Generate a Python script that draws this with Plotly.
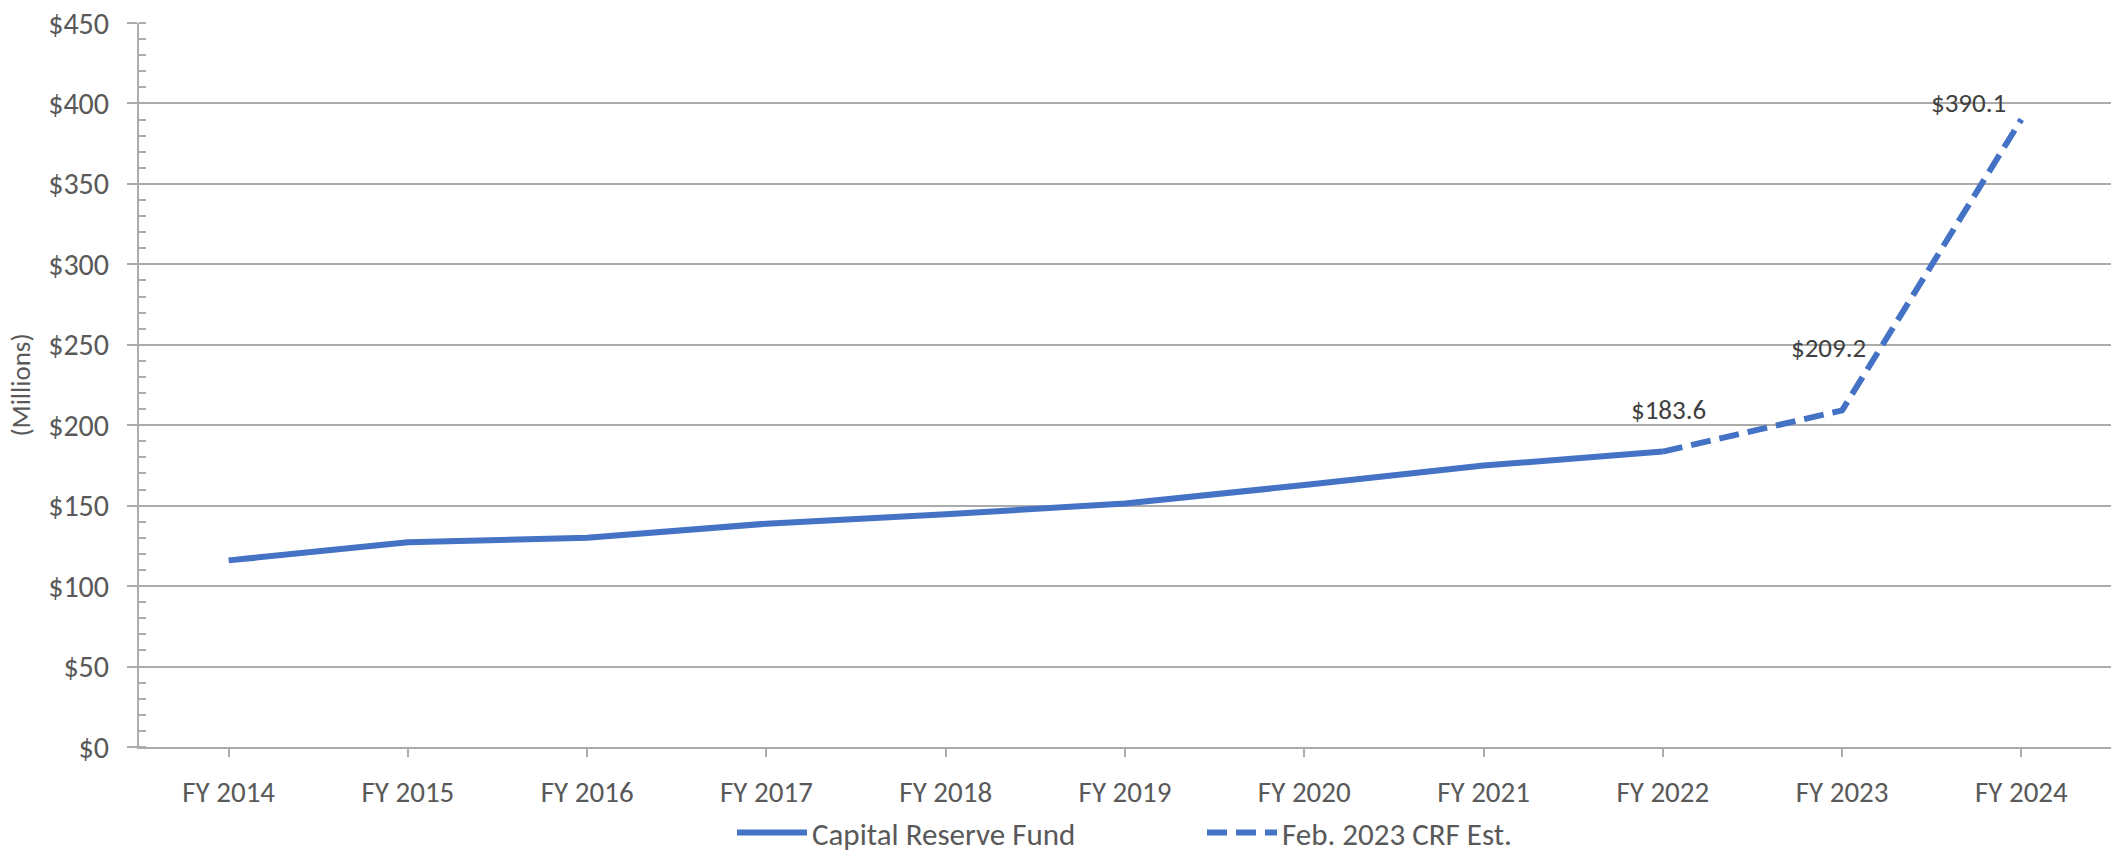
import plotly.graph_objects as go

# Fiscal years on the category axis
years = ["FY 2014", "FY 2015", "FY 2016", "FY 2017", "FY 2018", "FY 2019",
         "FY 2020", "FY 2021", "FY 2022", "FY 2023", "FY 2024"]

# Capital Reserve Fund balance, $ millions (actuals FY 2014 - FY 2022)
crf_years = years[:9]
crf_values = [116.0, 127.2, 130.1, 138.8, 144.6, 151.4, 162.8, 174.9, 183.6]

# February 2023 estimate, $ millions (FY 2022 - FY 2024)
est_years = years[8:]
est_values = [183.6, 209.2, 390.1]

# Value labels: which estimate points get a label, and their nudges (px)
label_idx = [0, 1, 2]
label_shift = [(6, 42), (-14, 63), (-53, 17)]

y_ticks = [0, 50, 100, 150, 200, 250, 300, 350, 400, 450]
y_ticktext = [f"${v}" for v in y_ticks]

BLUE = "#4472C4"
GRID = "#ababab"
TEXT = "#595959"
FONT = "Carlito, Calibri, Lato, sans-serif"

fig = go.Figure()

fig.add_trace(go.Scatter(
    x=crf_years, y=crf_values, mode="lines", name="Capital Reserve Fund",
    line=dict(color=BLUE, width=6), hoverinfo="skip",
))
fig.add_trace(go.Scatter(
    x=est_years, y=est_values, mode="lines", name="Feb. 2023 CRF Est.",
    line=dict(color=BLUE, width=6, dash="20px,9px"), hoverinfo="skip",
))

for i, (dx, dy) in zip(label_idx, label_shift):
    fig.add_annotation(
        x=est_years[i], y=est_values[i], text=f"${est_values[i]:.1f}",
        showarrow=False, xshift=dx, yshift=dy,
        font=dict(family=FONT, size=27, color="#404040"),
    )

fig.update_layout(
    width=2113, height=855,
    margin=dict(l=139, r=2, t=23, b=108),
    paper_bgcolor="white", plot_bgcolor="white",
    font=dict(family=FONT, color=TEXT),
    showlegend=True,
    legend=dict(
        orientation="h", xref="paper", x=0.3007, xanchor="left",
        yref="container", y=0.026, yanchor="middle",
        font=dict(family=FONT, size=31, color=TEXT),
        entrywidth=385, entrywidthmode="pixels", itemwidth=70,
        bgcolor="rgba(0,0,0,0)",
    ),
)

fig.update_xaxes(
    type="category", categoryorder="array", categoryarray=years,
    range=[-0.5, len(years) - 0.5],
    showline=True, linecolor=GRID, linewidth=2,
    ticks="outside", ticklen=8, tickcolor=GRID, tickwidth=1.5,
    ticklabelstandoff=10, automargin=False,
    tickfont=dict(family=FONT, size=29, color=TEXT),
    showgrid=False, zeroline=False, fixedrange=True,
)

fig.update_yaxes(
    range=[0, 450], tickvals=y_ticks, ticktext=y_ticktext,
    showline=True, linecolor=GRID, linewidth=2,
    ticks="outside", ticklen=10, tickcolor=GRID, tickwidth=1.5,
    ticklabelstandoff=12, automargin=False,
    minor=dict(dtick=10, ticks="inside", ticklen=7, tickcolor=GRID,
               tickwidth=1.5, showgrid=False),
    showgrid=True, gridcolor=GRID, gridwidth=1.5,
    zeroline=False, fixedrange=True,
    tickfont=dict(family=FONT, size=30, color=TEXT),
    title=dict(text="(Millions)", standoff=10,
               font=dict(family=FONT, size=27, color=TEXT)),
)

fig.write_html("out.html")
